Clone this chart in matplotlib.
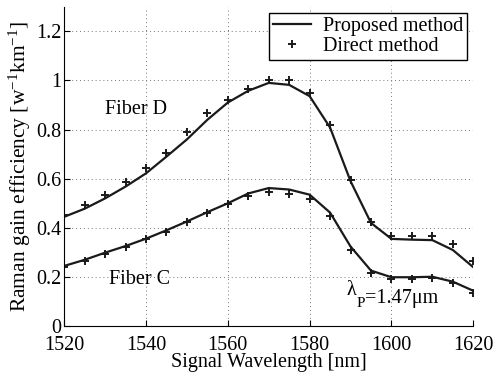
import matplotlib
matplotlib.use("Agg")
import matplotlib.pyplot as plt

plt.rcParams['font.family'] = ['Liberation Serif', 'DejaVu Serif']
plt.rcParams['mathtext.fontset'] = 'custom'
plt.rcParams['mathtext.rm'] = 'Liberation Serif'
plt.rcParams['mathtext.it'] = 'Liberation Serif:italic'

# Wavelength grid [nm]
wavelength = list(range(1520, 1621, 5))

# Fiber D
fiber_d_proposed = [0.445, 0.478, 0.52, 0.568, 0.622, 0.69, 0.76, 0.84, 0.91, 0.958, 0.99,
                    0.982, 0.936, 0.808, 0.59, 0.42, 0.355, 0.352, 0.35, 0.31, 0.24]
fiber_d_direct = [0.453, 0.491, 0.535, 0.586, 0.642, 0.706, 0.789, 0.867, 0.92, 0.967, 1.003,
                  1.0, 0.95, 0.818, 0.596, 0.424, 0.367, 0.365, 0.367, 0.333, 0.265]

# Fiber C
fiber_c_proposed = [0.245, 0.27, 0.299, 0.326, 0.356, 0.39, 0.426, 0.464, 0.5, 0.54, 0.562,
                    0.556, 0.535, 0.462, 0.324, 0.226, 0.199, 0.199, 0.201, 0.181, 0.144]
fiber_c_direct = [0.24, 0.266, 0.294, 0.324, 0.354, 0.385, 0.422, 0.46, 0.497, 0.528, 0.544,
                  0.539, 0.517, 0.449, 0.31, 0.218, 0.192, 0.192, 0.197, 0.177, 0.136]

fs = 14.5

fig = plt.figure(figsize=(4.94, 3.74), dpi=100)
ax = fig.add_axes([0.13, 0.128, 0.828, 0.854])

ax.plot(wavelength, fiber_d_proposed, '-', color='#1a1a1a', lw=1.6, label='Proposed method')
ax.plot(wavelength, fiber_d_direct, '+', color='#1a1a1a', ms=6, mew=1.4, label='Direct method')
ax.plot(wavelength, fiber_c_proposed, '-', color='#1a1a1a', lw=1.6)
ax.plot(wavelength, fiber_c_direct, '+', color='#1a1a1a', ms=6, mew=1.4)

ax.text(1530, 0.88, 'Fiber D', fontsize=fs, va='center', ha='left')
ax.text(1531, 0.188, 'Fiber C', fontsize=fs, va='center', ha='left')

# pump wavelength label, with a larger MATLAB-like subscript
lam = ax.text(1589, 0.128, 'λ', fontsize=fs, va='baseline', ha='left')
sub = ax.annotate('P', xy=(1, 0), xycoords=lam, xytext=(0, -5),
                  textcoords='offset points', fontsize=11, va='baseline', ha='left')
ax.annotate('=1.47μm', xy=(1, 0), xycoords=sub, xytext=(0, 5),
            textcoords='offset points', fontsize=fs, va='baseline', ha='left')

ax.set_xlim(1520, 1620)
ax.set_ylim(0, 1.3)
ax.set_xticks(range(1520, 1621, 20))
ax.set_yticks([0, 0.2, 0.4, 0.6, 0.8, 1.0, 1.2])
ax.set_yticklabels(['0', '0.2', '0.4', '0.6', '0.8', '1', '1.2'])
ax.tick_params(direction='in', labelsize=fs, length=4)
ax.tick_params(axis='x', pad=7)
ax.tick_params(axis='y', pad=2)
ax.grid(True, linestyle=(0, (1, 3)), color='#777777', lw=0.7)
ax.spines['top'].set_visible(False)
ax.spines['right'].set_visible(False)

ax.set_xlabel('Signal Wavelength [nm]', fontsize=fs, labelpad=-1)
ax.set_ylabel(r'Raman gain efficiency [w$^{-1}$km$^{-1}$]', fontsize=15.5, labelpad=2)

leg = ax.legend(loc='upper right', fontsize=fs, fancybox=False, framealpha=1,
                edgecolor='black', borderaxespad=0.3, handlelength=1.9,
                borderpad=0.2, labelspacing=0.05, handletextpad=0.6)
leg.get_frame().set_linewidth(1.0)

fig.savefig('out.png', dpi=100)
